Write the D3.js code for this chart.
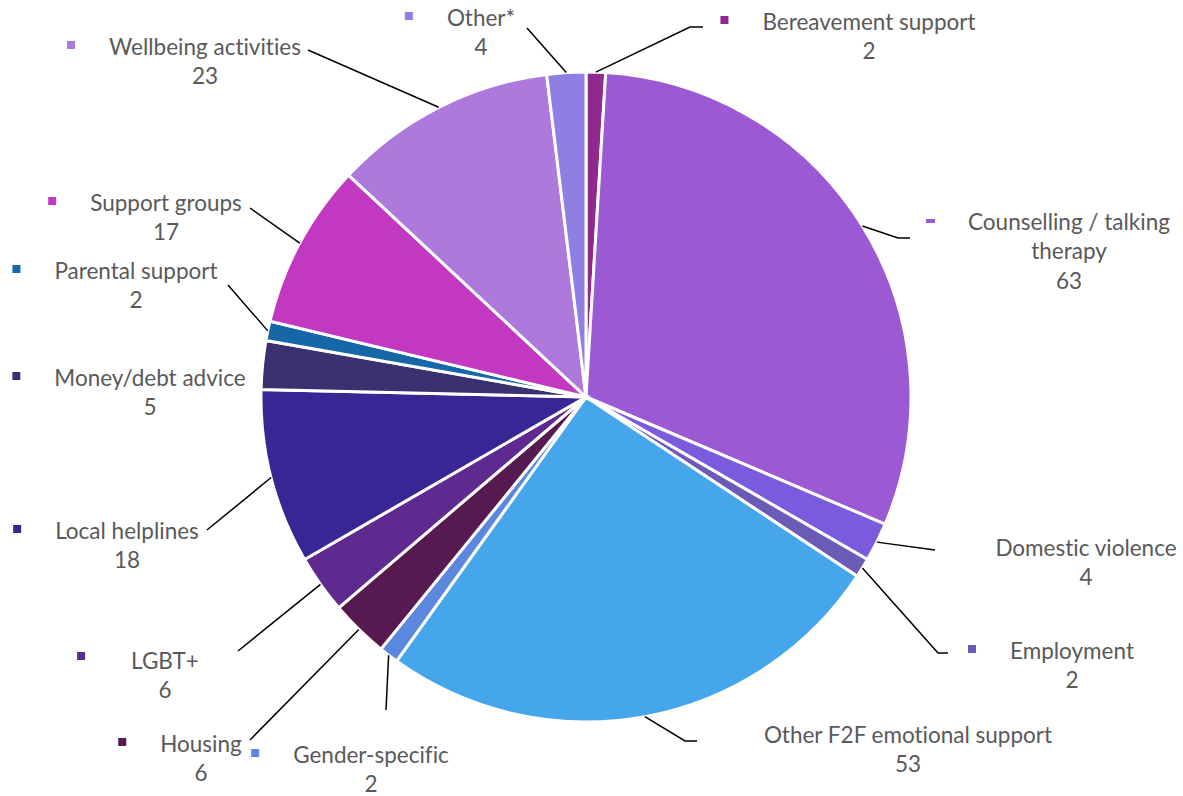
<!DOCTYPE html>
<html>
<head>
<meta charset="utf-8">
<script src="https://cdn.jsdelivr.net/npm/d3@7"></script>
<style>
  html, body { margin: 0; padding: 0; background: #ffffff; }
  svg { display: block; }
  text { font-family: Lato, "Open Sans", sans-serif; fill: #595959; font-variant-ligatures: none; }
</style>
</head>
<body>
<svg id="chart" width="1183" height="796"></svg>
<script>
// Services offered, clockwise from 12 o'clock
const categories = [
  "Bereavement support",
  "Counselling / talking therapy",
  "Domestic violence",
  "Employment",
  "Other F2F emotional support",
  "Gender-specific",
  "Housing",
  "LGBT+",
  "Local helplines",
  "Money/debt advice",
  "Parental support",
  "Support groups",
  "Wellbeing activities",
  "Other*"
];
const counts = [2, 63, 4, 2, 53, 2, 6, 6, 18, 5, 2, 17, 23, 4];
const colors = [
  "#912a8e", "#9b59d4", "#7a5bde", "#6b5bb6", "#46a6ec", "#5b87de", "#571a50",
  "#5f2a8f", "#3a2595", "#3a3270", "#1667a8", "#c238c0", "#ae79dc", "#8f7fe2"
];

// Label placement: text centre x, first-line y, leader elbow, optional tail,
// wrap width, marker visibility / offset
const labelLayout = [
  { x: 869, y: 22, elbow: [690, 27], tail: [703, 27] },
  { x: 1069, y: 222, elbow: [898, 238], tail: [910, 238], wrap: 235, marker: "bar" },
  { x: 1086, y: 548, elbow: [935, 550], marker: "none" },
  { x: 1072, y: 651, elbow: [938, 653], tail: [948, 653] },
  { x: 908, y: 735, elbow: [685, 741], tail: [697, 741], marker: "none" },
  { x: 371, y: 755, elbow: [386, 710] },
  { x: 201, y: 744, elbow: [250, 740] },
  { x: 165, y: 661, elbow: [238, 651], markerDx: 50, markerDy: -5 },
  { x: 127, y: 531, elbow: [207, 530] },
  { x: 150, y: 378 },
  { x: 136, y: 271, elbow: [228, 285] },
  { x: 166, y: 203, elbow: [250, 208] },
  { x: 205, y: 47, elbow: [308, 50] },
  { x: 481, y: 18, elbow: [527, 28] }
];

const cx = 586, cy = 397, radius = 325;
const lineGap = 29.5;
const fontSize = "22.5px";

const data = categories.map((c, i) => ({ name: c, value: counts[i], color: colors[i], layout: labelLayout[i] }));

const svg = d3.select("#chart");
const g = svg.append("g").attr("transform", `translate(${cx},${cy})`);

const pie = d3.pie().value(d => d.value).sort(null);
const arcs = pie(data);
const arc = d3.arc().innerRadius(0).outerRadius(radius);

g.selectAll("path.slice")
  .data(arcs)
  .join("path")
  .attr("class", "slice")
  .attr("d", arc)
  .attr("fill", d => d.data.color)
  .attr("stroke", "#ffffff")
  .attr("stroke-width", 3)
  .attr("stroke-linejoin", "miter");

// Leader lines from each slice's outer edge midpoint to its label
const edgePoint = d => {
  const a = (d.startAngle + d.endAngle) / 2;
  return [cx + radius * Math.sin(a), cy - radius * Math.cos(a)];
};

const leaders = svg.append("g").attr("class", "leaders");
arcs.forEach(d => {
  const L = d.data.layout;
  if (!L.elbow) return;
  const pts = [edgePoint(d), L.elbow];
  if (L.tail) pts.push(L.tail);
  leaders.append("path")
    .attr("d", d3.line()(pts))
    .attr("fill", "none")
    .attr("stroke", "#000000")
    .attr("stroke-width", 1.5);
});

// Labels: category name (wrapped where needed), value beneath, colour marker at left
const labels = svg.append("g").attr("class", "labels");
arcs.forEach(d => {
  const L = d.data.layout;
  const lg = labels.append("g");
  let lines = [d.data.name];
  if (L.wrap) {
    const words = d.data.name.split(" ");
    lines = [];
    let cur = "";
    const probe = lg.append("text").style("font-size", fontSize);
    words.forEach(w => {
      const test = cur ? cur + " " + w : w;
      probe.text(test);
      if (probe.node().getComputedTextLength() > L.wrap && cur) {
        lines.push(cur);
        cur = w;
      } else {
        cur = test;
      }
    });
    if (cur) lines.push(cur);
    probe.remove();
  }
  lines.push(String(d.data.value));

  const t = lg.append("text")
    .attr("text-anchor", "middle")
    .style("font-size", fontSize);
  lines.forEach((ln, k) => {
    t.append("tspan")
      .attr("x", L.x)
      .attr("y", L.y + k * lineGap)
      .attr("dy", "0.35em")
      .text(ln);
  });

  if (L.marker === "none") return;
  const firstW = t.select("tspan").node().getComputedTextLength();
  const left = L.x - firstW / 2;
  const mx = left - (L.markerDx || 38);
  const my = L.y + (L.markerDy || -2);
  if (L.marker === "bar") {
    lg.append("rect").attr("x", mx - 4).attr("y", my - 1).attr("width", 9).attr("height", 4).attr("fill", d.data.color);
  } else {
    lg.append("rect").attr("x", mx - 4).attr("y", my - 4).attr("width", 8).attr("height", 8).attr("fill", d.data.color);
  }
});
</script>
</body>
</html>
